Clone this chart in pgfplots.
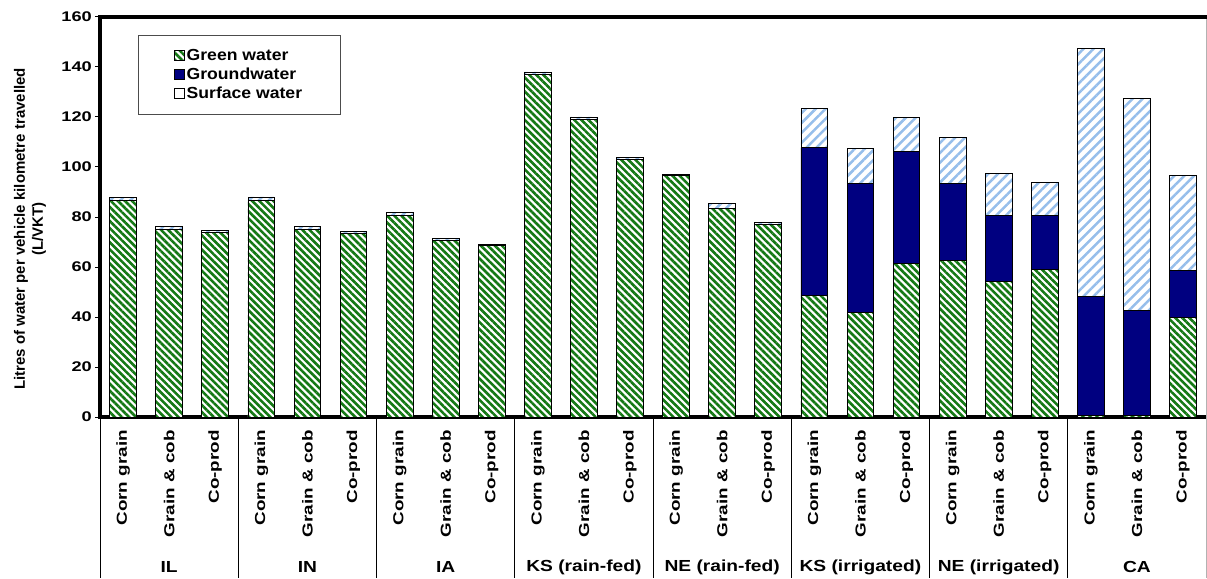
\documentclass[border=0pt]{standalone}
\usepackage{pgfplots}
\pgfplotsset{compat=1.18}
\usepackage{pgfplotstable}
\usepackage{fontspec}
\setmainfont{Liberation Sans}
\newfontfamily\tickf{Liberation Sans}[FakeStretch=1.3]
\newfontfamily\grpf{Liberation Sans}[FakeStretch=1.2]
\newfontfamily\legf{Liberation Sans}[FakeStretch=1.1]
\usetikzlibrary{patterns.meta}
\definecolor{gw}{RGB}{20,120,20}
\definecolor{nv}{RGB}{0,0,128}
\definecolor{sw}{RGB}{150,190,235}

\pgfplotstableread{
x green ground surface
0 86.5 0 1.3
1 75.0 0 1.2
2 74.0 0 0.8
3 86.5 0 1.5
4 75.0 0 1.2
5 73.5 0 0.6
6 80.5 0 1.5
7 70.5 0 0.8
8 68.5 0 0.6
9 137.0 0 1.0
10 119.0 0 1.0
11 103.0 0 0.8
12 96.5 0 0.6
13 83.5 0 1.8
14 77.0 0 0.8
15 48.5 59.2 15.8
16 42.0 51.5 14.0
17 61.5 44.6 13.6
18 62.8 30.7 18.2
19 54.4 26.1 17.0
20 59.2 21.3 13.4
21 0.8 47.3 99.4
22 0.8 41.7 85.0
23 39.9 18.9 37.7
}\data

\begin{document}
\begin{tikzpicture}
\begin{axis}[
  name=ax,
  scale only axis, width=1106pt, height=400pt,
  ybar stacked, bar width=0.58,
  xmin=-0.5, xmax=23.5, ymin=0, ymax=160,
  ytick={0,20,...,160},
  xtick={0,...,23},
  xticklabels={Corn grain,Grain \& cob,Co-prod,Corn grain,Grain \& cob,Co-prod,Corn grain,Grain \& cob,Co-prod,Corn grain,Grain \& cob,Co-prod,Corn grain,Grain \& cob,Co-prod,Corn grain,Grain \& cob,Co-prod,Corn grain,Grain \& cob,Co-prod,Corn grain,Grain \& cob,Co-prod},
  axis line style={draw=none},
  ytick pos=left,
  tick align=outside, major tick length=5pt,
  xtick style={draw=none},
  ytick style={black, line width=1pt},
  /pgf/number format/assume math mode=true,
  yticklabel style={font=\tickf\bfseries\fontsize{14}{16}\selectfont, inner sep=0pt, xshift=-3pt},
  xticklabel style={rotate=90, anchor=east, inner sep=0pt, font=\tickf\bfseries\fontsize{14.5}{16}\selectfont},
  xticklabel shift=8pt,
  clip=false,
  ylabel={Litres of water per vehicle kilometre travelled\\(L/VKT)},
  every axis y label/.style={at={(rel axis cs:0,0.47)}, xshift=-70pt, rotate=90, anchor=center, align=center, font=\bfseries\fontsize{15}{18}\selectfont},
  legend image code/.code={\draw[#1,line width=0.8pt] (0pt,-5pt) rectangle (10pt,5pt);},
  legend style={at={(0.034,0.955)}, anchor=north west, draw=black!70, line width=0.6pt, inner xsep=36pt, inner ysep=12pt, font=\legf\bfseries\fontsize{16}{19}\selectfont, row sep=2pt},
  legend cell align=left,
]
\addplot[fill=white, draw=black, line width=0.8pt, postaction={pattern color=gw, pattern={Lines[angle=-45,distance=5pt,line width=2.6pt]}}] table[x=x,y=green]{\data};
\addlegendentry{Green water}
\addplot[fill=nv, draw=black, line width=0.8pt] table[x=x,y=ground]{\data};
\addlegendentry{Groundwater}
\addplot[fill=white, draw=black, line width=0.8pt, postaction={pattern color=sw, pattern={Lines[angle=45,distance=7pt,line width=2.5pt]}}, forget plot] table[x=x,y=surface]{\data};
\addlegendimage{fill=white, draw=black}
\addlegendentry{Surface water}

\draw[line width=3.5pt, line cap=rect] (rel axis cs:0,0) -- (rel axis cs:0,1) -- (rel axis cs:1,1);
\draw[line width=3.5pt] (rel axis cs:0,0) -- (rel axis cs:1,0);
\draw[gray!60, line width=0.8pt] (rel axis cs:1,1) -- ([yshift=-161pt]rel axis cs:1,0);
\pgfplotsinvokeforeach{-0.5,2.5,5.5,8.5,11.5,14.5,17.5,20.5}{
  \draw[line width=1pt] (axis cs:#1,0) -- ++(0pt,-161pt);
}
\pgfplotsforeachungrouped \p/\t in {1/IL,4/IN,7/IA,10/KS (rain-fed),13/NE (rain-fed),16/KS (irrigated),19/NE (irrigated),22/CA}{
  \edef\tmp{\noexpand\node[font=\noexpand\grpf\noexpand\bfseries\noexpand\fontsize{16}{18}\noexpand\selectfont, anchor=center] at ([yshift=-150pt]axis cs:\p,0) {\t};}
  \tmp
}
\end{axis}
\pgfresetboundingbox
\path[use as bounding box] ([xshift=-100pt,yshift=-161pt]ax.south west) rectangle ([xshift=1pt,yshift=17pt]ax.north east);
\end{tikzpicture}
\end{document}
